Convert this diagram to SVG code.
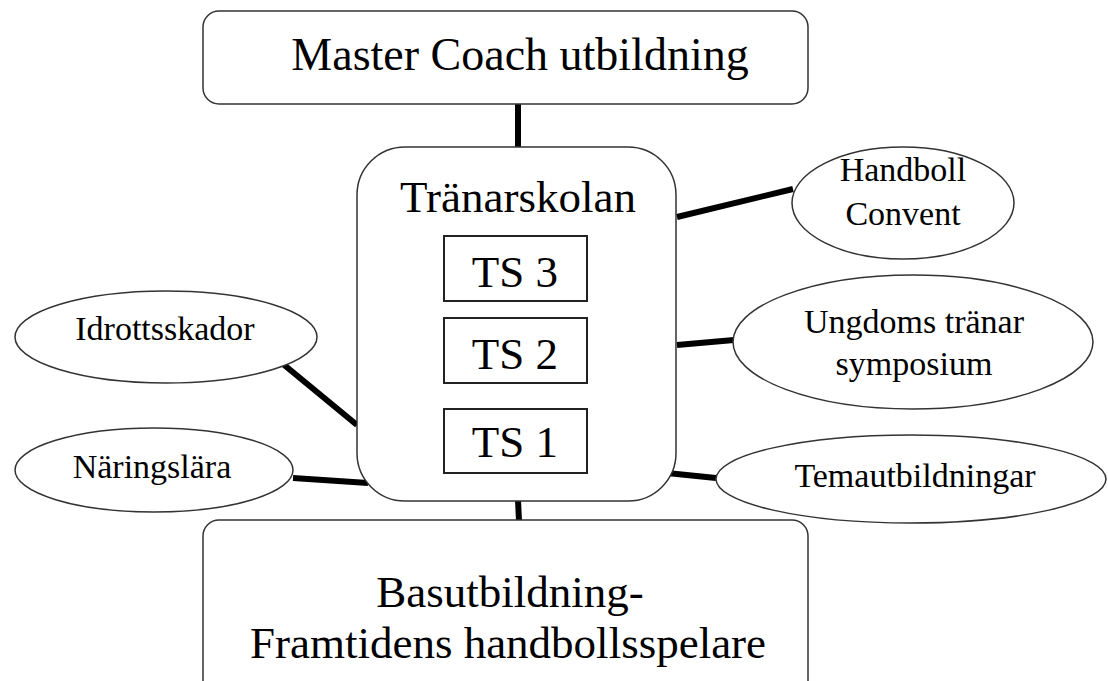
<svg xmlns="http://www.w3.org/2000/svg" width="1108" height="681" viewBox="0 0 1108 681">
<style>
.box{fill:#fff;stroke:#333;stroke-width:1.5}
.ts{fill:#fff;stroke:#222;stroke-width:2}
.big{font-family:"Liberation Serif","Times New Roman",serif;font-size:45px;fill:#000;text-anchor:middle}
.sm{font-family:"Liberation Serif","Times New Roman",serif;font-size:34px;fill:#000;text-anchor:middle}
.con line{stroke:#000;stroke-width:6}
</style>
<rect width="1108" height="681" fill="#fff"/>
<g class="con" id="connectors">
<line x1="518" y1="103" x2="518" y2="148"/>
<line x1="518" y1="500" x2="519" y2="521"/>
<line x1="677" y1="217" x2="793" y2="189"/>
<line x1="677" y1="345" x2="734" y2="340"/>
<line x1="667" y1="473" x2="716" y2="478"/>
<line x1="283" y1="364" x2="357" y2="425"/>
<line x1="293" y1="478" x2="368" y2="483"/>
</g>
<g id="master"><rect class="box" x="203" y="11" width="605" height="93" rx="16"/><text class="big" x="520" y="70" style="font-size:46px">Master Coach utbildning</text></g>
<g id="tranarskolan"><rect class="box" x="357" y="147" width="319" height="354" rx="48"/><text class="big" x="518" y="212">Tränarskolan</text></g>
<g id="ts3"><rect class="ts" x="444" y="236" width="143" height="65"/><text class="big" x="515" y="287">TS 3</text></g>
<g id="ts2"><rect class="ts" x="444" y="318" width="143" height="65"/><text class="big" x="515" y="369">TS 2</text></g>
<g id="ts1"><rect class="ts" x="444" y="409" width="143" height="64"/><text class="big" x="515" y="457">TS 1</text></g>
<g id="basutbildning"><rect class="box" x="203" y="520" width="605" height="180" rx="16"/><text class="big" x="510" y="607">Basutbildning-</text><text class="big" x="508" y="658">Framtidens handbollsspelare</text></g>
<g id="idrottsskador"><ellipse class="box" cx="166" cy="337" rx="151" ry="46"/><text class="sm" x="165" y="340">Idrottsskador</text></g>
<g id="naringslara"><ellipse class="box" cx="154" cy="470" rx="139" ry="42"/><text class="sm" x="152" y="478">Näringslära</text></g>
<g id="handboll"><ellipse class="box" cx="903" cy="203" rx="111" ry="56"/><text class="sm" x="903" y="181">Handboll</text><text class="sm" x="903" y="225">Convent</text></g>
<g id="ungdoms"><ellipse class="box" cx="913" cy="342" rx="180" ry="67"/><text class="sm" x="914" y="333">Ungdoms tränar</text><text class="sm" x="914" y="375">symposium</text></g>
<g id="tema"><ellipse class="box" cx="911" cy="479" rx="195" ry="44"/><text class="sm" x="915" y="487">Temautbildningar</text></g>
</svg>
